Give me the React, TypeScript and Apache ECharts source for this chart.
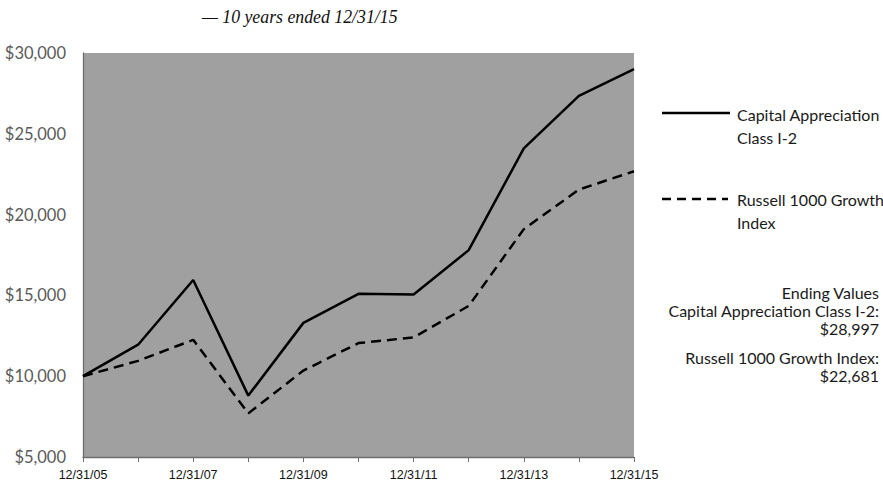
import React, { useEffect, useRef } from "react";
import * as echarts from "echarts";

const categories = ["12/31/05", "12/31/06", "12/31/07", "12/31/08", "12/31/09", "12/31/10", "12/31/11", "12/31/12", "12/31/13", "12/31/14", "12/31/15"];
const capitalAppreciation = [10000, 11950, 15950, 8800, 13300, 15100, 15050, 17800, 24100, 27350, 28997];
const russell1000Growth = [10000, 10950, 12250, 7700, 10350, 12050, 12400, 14350, 19100, 21550, 22681];
const yTicks = { min: 5000, max: 30000, interval: 5000 };
const titleText = "— 10 years ended 12/31/15";
const seriesNames = ["Capital Appreciation Class I-2", "Russell 1000 Growth Index"];
const endingLines = ["Ending Values", "Capital Appreciation Class I-2:", "$28,997", "Russell 1000 Growth Index:", "$22,681"];

export default function App() {
  const ref = useRef<HTMLDivElement>(null);
  useEffect(() => {
    document.body.style.margin = "0";
    const chart = echarts.init(ref.current!, null, { renderer: "svg" });
    const legendFont = { fontFamily: "Lato", fontSize: 16, fill: "#1a1a1a" };
    const endingY = [292, 310, 328, 357, 375];
    chart.setOption({
      animation: false,
      grid: { left: 83, right: 249, top: 53, bottom: 25, show: true, backgroundColor: "#a0a0a0", borderWidth: 0 },
      xAxis: {
        type: "category",
        data: categories,
        boundaryGap: false,
        axisLine: { lineStyle: { color: "#6e6e6e", width: 1.3 } },
        axisTick: { show: true, interval: 0, length: 5, lineStyle: { color: "#6e6e6e" } },
        axisLabel: { interval: 1, color: "#111", fontFamily: "Liberation Sans", fontSize: 12.5, margin: 11 },
        splitLine: { show: false },
      },
      yAxis: {
        type: "value",
        min: yTicks.min,
        max: yTicks.max,
        interval: yTicks.interval,
        axisLine: { show: true, lineStyle: { color: "#6e6e6e", width: 1.3 } },
        axisTick: { show: false },
        splitLine: { show: false },
        axisLabel: {
          color: "#5a5a5a",
          fontFamily: "Lato",
          fontSize: 16.5,
          margin: 17,
          formatter: (v: number) => "$" + v.toLocaleString("en-US"),
        },
      },
      series: [
        {
          name: seriesNames[0],
          type: "line",
          data: capitalAppreciation,
          showSymbol: false,
          lineStyle: { color: "#000", width: 2.5, type: "solid" },
        },
        {
          name: seriesNames[1],
          type: "line",
          data: russell1000Growth,
          showSymbol: false,
          lineStyle: { color: "#000", width: 2.5, type: [10, 6] },
        },
      ],
      graphic: [
        {
          type: "text",
          x: 202,
          y: 17,
          style: { text: titleText, fontFamily: "Liberation Serif", fontStyle: "italic", fontSize: 17.8, fill: "#111", verticalAlign: "middle" },
        },
        { type: "line", shape: { x1: 662, y1: 113, x2: 730, y2: 113 }, style: { stroke: "#000", lineWidth: 2.5 } },
        { type: "text", x: 737, y: 114, style: { ...legendFont, text: "Capital Appreciation", verticalAlign: "middle" } },
        { type: "text", x: 737, y: 137, style: { ...legendFont, text: "Class I-2", verticalAlign: "middle" } },
        { type: "line", shape: { x1: 662, y1: 199, x2: 728, y2: 199 }, style: { stroke: "#000", lineWidth: 2.5, lineDash: [9, 6] } },
        { type: "text", x: 737, y: 199, style: { ...legendFont, text: "Russell 1000 Growth", verticalAlign: "middle" } },
        { type: "text", x: 737, y: 222, style: { ...legendFont, text: "Index", verticalAlign: "middle" } },
        ...endingLines.map((t, i) => ({
          type: "text",
          x: 879,
          y: endingY[i],
          style: { ...legendFont, text: t, align: "right", verticalAlign: "middle" },
        })),
      ],
    });
    return () => chart.dispose();
  }, []);
  return <div ref={ref} style={{ width: 883, height: 482 }} />;
}
